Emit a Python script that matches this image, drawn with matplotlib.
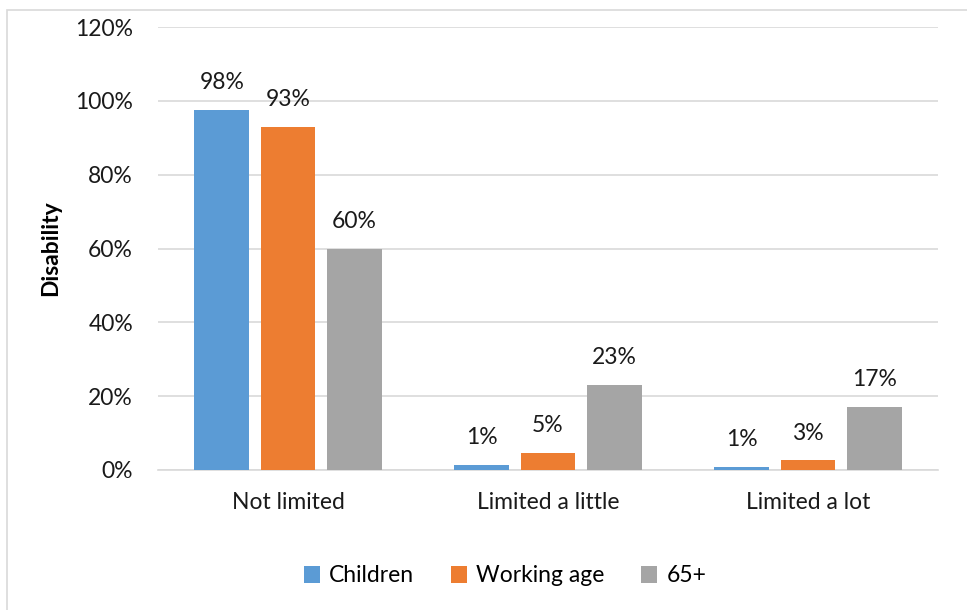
import numpy as np
import matplotlib
matplotlib.use("Agg")
from matplotlib import pyplot as plt
from matplotlib.patches import Rectangle

categories = ["Not limited", "Limited a little", "Limited a lot"]
groups = ["Children", "Working age", "65+"]
children = [97.6, 1.4, 0.8]
working_age = [93.0, 4.6, 2.6]
over_65 = [59.9, 23.1, 17.1]
colors = ["#5b9bd5", "#ed7d31", "#a5a5a5"]
yticks = [0, 20, 40, 60, 80, 100, 120]

plt.rcParams['font.family'] = ['Lato', 'DejaVu Sans']
fs = 16.5

fig = plt.figure(figsize=(9.67, 6.10), dpi=100)
# outer chart frame, runs off the right and bottom edges
fig.patches.append(Rectangle((7 / 967, -0.1), 1.1, 1 - 10 / 610 + 0.1,
                             transform=fig.transFigure, fill=False,
                             edgecolor="#d9d9d9", linewidth=1.2))

ax = fig.add_axes([158 / 967, 140 / 610, 780 / 967, 443 / 610])
x = np.arange(len(categories))
width = 0.21
step = 0.255
for i, (vals, name) in enumerate(zip([children, working_age, over_65], groups)):
    bars = ax.bar(x + (i - 1) * step, vals, width, color=colors[i], label=name, zorder=3)
    for b, v in zip(bars, vals):
        ax.annotate(f"{v:.0f}%", (b.get_x() + b.get_width() / 2, v),
                    xytext=(0, 12), textcoords="offset points",
                    ha="center", va="bottom", fontsize=fs, color="#1a1a1a")

ax.set_xlim(-0.5, 2.5)
ax.set_ylim(0, 120)
ax.set_yticks(yticks)
ax.set_yticklabels([f"{t}%" for t in yticks])
ax.set_xticks(x)
ax.set_xticklabels(categories)
ax.tick_params(axis="both", length=0, labelsize=fs, labelcolor="#1a1a1a")
ax.tick_params(axis="y", pad=18)
ax.tick_params(axis="x", pad=16)
ax.grid(axis="y", color="#d9d9d9", linewidth=1.2, zorder=0)
for s in ["top", "right", "left"]:
    ax.spines[s].set_visible(False)
ax.spines["bottom"].set_color("#d9d9d9")
ax.spines["bottom"].set_linewidth(1.2)

ax.set_ylabel("Disability", fontsize=fs, fontweight="bold", labelpad=10)

fig.legend(loc="center", bbox_to_anchor=(505 / 967, 1 - 576 / 610), ncol=3,
           frameon=False, fontsize=fs, handlelength=0.7, handleheight=0.7,
           handletextpad=0.4, columnspacing=1.6)

fig.savefig("out.png", dpi=100)
